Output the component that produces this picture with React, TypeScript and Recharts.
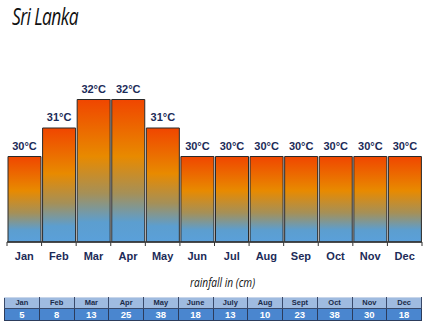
import { Bar, BarChart, LabelList, XAxis, YAxis } from 'recharts';

const months = ['Jan', 'Feb', 'Mar', 'Apr', 'May', 'Jun', 'Jul', 'Aug', 'Sep', 'Oct', 'Nov', 'Dec'];
const temps = [30, 31, 32, 32, 31, 30, 30, 30, 30, 30, 30, 30];
const rainMonths = ['Jan', 'Feb', 'Mar', 'Apr', 'May', 'June', 'July', 'Aug', 'Sept', 'Oct', 'Nov', 'Dec'];
const rainfall = [5, 8, 13, 25, 38, 18, 13, 10, 23, 38, 30, 18];

const data = months.map((m, i) => ({ month: m, temp: temps[i] }));

const LEFT = 7;
const RIGHT = 2;
const WIDTH = 424;
const AXIS_Y = 242;
const BAND = (WIDTH - LEFT - RIGHT) / months.length;
const NAVY = '#1c2b58';

const MonthTick = (props: any) => {
    const { x, index, payload } = props;
    const left = x - BAND / 2;
    return (
        <g>
            <line x1={left} y1={AXIS_Y} x2={left} y2={AXIS_Y + 4} stroke='#333' strokeWidth={1} />
            {index === months.length - 1 && (
                <line x1={left + BAND} y1={AXIS_Y} x2={left + BAND} y2={AXIS_Y + 4} stroke='#333' strokeWidth={1} />
            )}
            <text x={x} y={AXIS_Y + 17.5} textAnchor='middle' fill={NAVY} fontSize={11} fontWeight='bold' fontFamily='Liberation Sans, Arial, sans-serif'>
                {payload.value}
            </text>
        </g>
    );
};

export default function App() {
    return (
        <div style={{ position: 'absolute', top: 0, left: 0, width: 424, height: 331, background: '#fff', overflow: 'hidden' }}>
            <div
                style={{
                    position: 'absolute',
                    top: 0,
                    left: 12,
                    fontFamily: '"Open Sans", sans-serif',
                    fontStyle: 'italic',
                    fontSize: 23,
                    color: '#111',
                    letterSpacing: -0.8,
                    transform: 'scaleX(0.76)',
                    transformOrigin: 'left center',
                    whiteSpace: 'nowrap',
                }}
            >
                Sri Lanka
            </div>
            <BarChart width={WIDTH} height={270} data={data} margin={{ top: 71, right: RIGHT, left: LEFT, bottom: 0 }} barCategoryGap={1}>
                <defs>
                    <linearGradient id='barGrad' x1='0' y1='0' x2='0' y2='1'>
                        <stop offset='0%' stopColor='#f04600' />
                        <stop offset='40%' stopColor='#e88a00' />
                        <stop offset='66%' stopColor='#a59058' />
                        <stop offset='86%' stopColor='#5c9ecf' />
                        <stop offset='100%' stopColor='#5aa0da' />
                    </linearGradient>
                </defs>
                <XAxis dataKey='month' height={28} tickLine={false} axisLine={{ stroke: '#333', strokeWidth: 1.5 }} tick={<MonthTick />} interval={0} />
                <YAxis hide domain={[27, 33]} />
                <Bar dataKey='temp' fill='url(#barGrad)' stroke='#2a2a2a' strokeWidth={1} isAnimationActive={false}>
                    <LabelList
                        dataKey='temp'
                        position='top'
                        offset={7}
                        formatter={(v: any) => `${v}°C`}
                        fill={NAVY}
                        fontSize={11}
                        fontWeight='bold'
                        fontFamily='Liberation Sans, Arial, sans-serif'
                    />
                </Bar>
            </BarChart>
            <div
                style={{
                    position: 'absolute',
                    top: 273,
                    left: 190,
                    fontFamily: '"Open Sans", sans-serif',
                    fontStyle: 'italic',
                    fontSize: 13,
                    color: '#111',
                    transform: 'scaleX(0.78)',
                    transformOrigin: 'left center',
                    whiteSpace: 'nowrap',
                }}
            >
                rainfall in (cm)
            </div>
            <table
                style={{
                    position: 'absolute',
                    top: 297,
                    left: 4,
                    width: 418,
                    borderCollapse: 'collapse',
                    tableLayout: 'fixed',
                    fontFamily: 'Liberation Sans, Arial, sans-serif',
                    fontWeight: 'bold',
                }}
            >
                <tbody>
                    <tr style={{ background: '#9fbbe0', height: 11 }}>
                        {rainMonths.map((m) => (
                            <td key={m} style={{ border: '1px solid #3a4a6a', borderTopColor: '#c8d6ea', fontSize: 7.5, color: '#1a2a48', textAlign: 'center', padding: 0, lineHeight: '10px' }}>
                                {m}
                            </td>
                        ))}
                    </tr>
                    <tr style={{ background: '#4a86cf', height: 12 }}>
                        {rainfall.map((v, i) => (
                            <td key={i} style={{ border: '1px solid #2c3c5c', fontSize: 9.5, color: '#fff', textAlign: 'center', padding: 0, lineHeight: '11px' }}>
                                {v}
                            </td>
                        ))}
                    </tr>
                </tbody>
            </table>
        </div>
    );
}
